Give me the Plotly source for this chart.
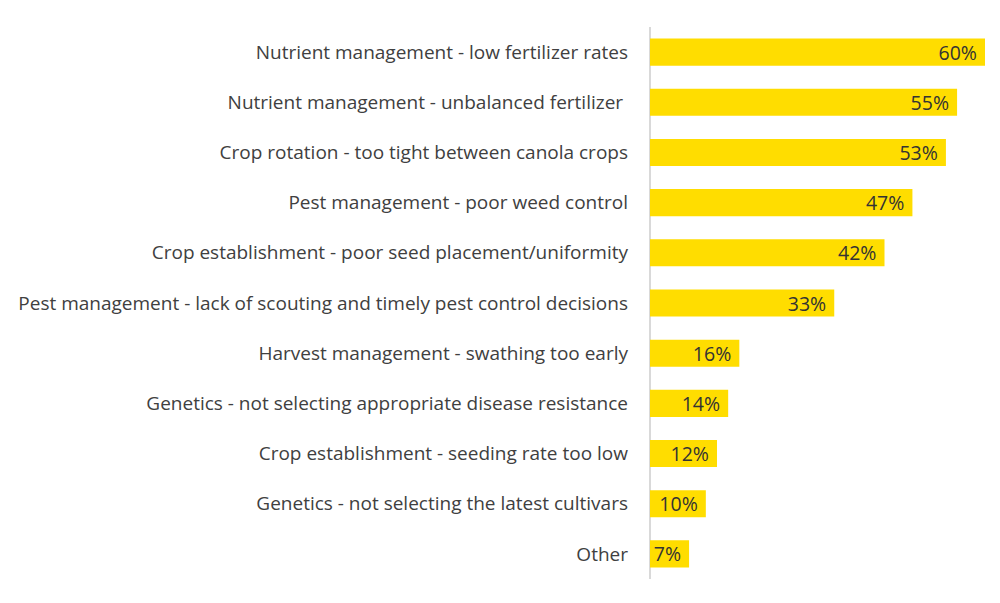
import plotly.graph_objects as go

categories = [
    "Nutrient management - low fertilizer rates",
    "Nutrient management - unbalanced fertilizer ",
    "Crop rotation - too tight between canola crops",
    "Pest management - poor weed control",
    "Crop establishment - poor seed placement/uniformity",
    "Pest management - lack of scouting and timely pest control decisions",
    "Harvest management - swathing too early",
    "Genetics - not selecting appropriate disease resistance",
    "Crop establishment - seeding rate too low",
    "Genetics - not selecting the latest cultivars",
    "Other",
]
values = [60, 55, 53, 47, 42, 33, 16, 14, 12, 10, 7]
labels = [f"{v}%\u00a0" for v in values]

fig = go.Figure(go.Bar(
    y=categories,
    x=values,
    orientation="h",
    marker=dict(color="#FFDD00", line=dict(width=0)),
    width=0.54,
    text=labels,
    textposition="inside",
    insidetextanchor="end",
    constraintext="none",
    textfont=dict(family="Open Sans", size=19.5, color="#333333"),
    cliponaxis=False,
))

fig.update_layout(
    width=1000, height=603,
    margin=dict(l=642, r=23, t=19, b=32),
    plot_bgcolor="white", paper_bgcolor="white",
    showlegend=False,
    font=dict(family="Open Sans", size=19, color="#404040"),
)
fig.update_yaxes(
    autorange="reversed",
    showgrid=False,
    ticks="",
    ticklabelstandoff=21,
    showline=False,
    zeroline=False,
    automargin=False,
)
fig.update_xaxes(
    range=[0, 60],
    showgrid=False,
    showticklabels=False,
    zeroline=True,
    zerolinecolor="#d9d9d9",
    zerolinewidth=2,
    showline=False,
    automargin=False,
)
fig.write_html("out.html")
